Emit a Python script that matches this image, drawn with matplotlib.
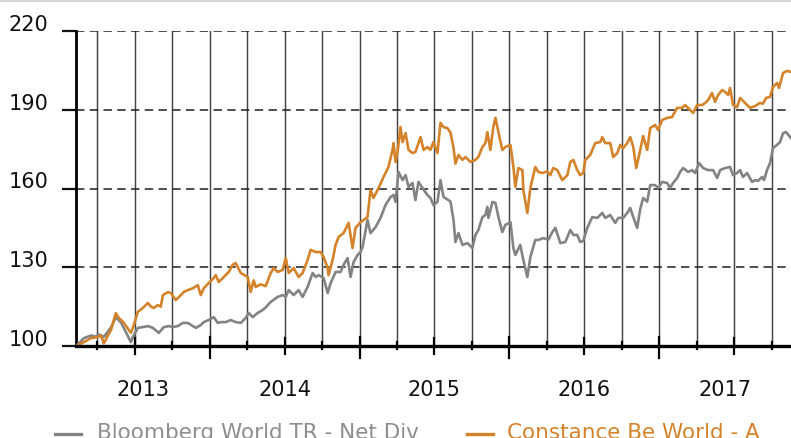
import matplotlib
matplotlib.use("Agg")
import matplotlib.pyplot as plt
from matplotlib.lines import Line2D

# ---------------- data ----------------
fund_label = "Constance Be World - A"
bench_label = "Bloomberg World TR - Net Div"
year_labels = [2013, 2014, 2015, 2016, 2017]
y_ticks = [100, 130, 160, 190, 220]

fund_t = [2013.107, 2013.160, 2013.207, 2013.253, 2013.273, 2013.287, 2013.293, 2013.320, 2013.340, 2013.373,
          2013.393, 2013.427, 2013.473, 2013.493, 2013.520, 2013.553, 2013.587, 2013.607, 2013.627, 2013.653,
          2013.673, 2013.687, 2013.720, 2013.740, 2013.773, 2013.807, 2013.827, 2013.853, 2013.887, 2013.920,
          2013.940, 2013.960, 2013.993, 2014.027, 2014.040, 2014.060, 2014.093, 2014.127, 2014.153, 2014.173,
          2014.187, 2014.207, 2014.253, 2014.273, 2014.293, 2014.307, 2014.340, 2014.373, 2014.407, 2014.427,
          2014.453, 2014.487, 2014.507, 2014.527, 2014.560, 2014.593, 2014.620, 2014.653, 2014.673, 2014.707,
          2014.740, 2014.760, 2014.787, 2014.793, 2014.820, 2014.840, 2014.860, 2014.893, 2014.927, 2014.953,
          2014.973, 2015.007, 2015.053, 2015.073, 2015.093, 2015.127, 2015.160, 2015.193, 2015.220, 2015.227,
          2015.240, 2015.253, 2015.273, 2015.287, 2015.307, 2015.327, 2015.353, 2015.373, 2015.407, 2015.427,
          2015.453, 2015.473, 2015.493, 2015.520, 2015.540, 2015.560, 2015.587, 2015.607, 2015.627, 2015.640,
          2015.660, 2015.687, 2015.707, 2015.740, 2015.773, 2015.793, 2015.820, 2015.840, 2015.853, 2015.873,
          2015.893, 2015.907, 2015.927, 2015.953, 2015.973, 2016.007, 2016.027, 2016.040, 2016.060, 2016.087,
          2016.093, 2016.120, 2016.140, 2016.173, 2016.193, 2016.220, 2016.253, 2016.273, 2016.293, 2016.320,
          2016.353, 2016.387, 2016.407, 2016.427, 2016.453, 2016.473, 2016.493, 2016.507, 2016.540, 2016.573,
          2016.607, 2016.620, 2016.640, 2016.673, 2016.693, 2016.720, 2016.740, 2016.760, 2016.787, 2016.807,
          2016.827, 2016.847, 2016.873, 2016.893, 2016.920, 2016.940, 2016.973, 2016.993, 2017.020, 2017.053,
          2017.087, 2017.093, 2017.120, 2017.153, 2017.173, 2017.193, 2017.227, 2017.253, 2017.287, 2017.307,
          2017.327, 2017.353, 2017.373, 2017.393, 2017.420, 2017.440, 2017.460, 2017.473, 2017.493, 2017.520,
          2017.540, 2017.573, 2017.607, 2017.640, 2017.673, 2017.693, 2017.713, 2017.740, 2017.760, 2017.787,
          2017.800, 2017.827, 2017.853, 2017.880]
fund_v = [100.0, 101.5, 103.0, 103.4, 104.0, 102.0, 101.0, 104.0, 106.0, 112.5,
          110.7, 108.8, 105.0, 108.0, 113.0, 114.5, 116.4, 115.0, 114.5, 115.6,
          115.0, 119.4, 120.5, 120.2, 117.5, 119.4, 120.6, 121.3, 122.0, 123.2,
          119.4, 122.0, 124.0, 125.9, 127.0, 124.4, 126.3, 128.2, 130.9, 131.6,
          130.0, 127.8, 126.3, 120.6, 125.0, 122.5, 123.5, 122.8, 127.8, 129.7,
          128.2, 129.0, 133.5, 127.8, 129.7, 126.3, 127.8, 132.8, 136.6, 135.8,
          135.8, 133.9, 129.7, 127.0, 132.8, 138.5, 141.5, 143.0, 146.9, 137.3,
          145.0, 147.2, 149.1, 159.4, 156.4, 160.2, 164.4, 168.2, 174.7, 177.3,
          170.1, 173.5, 183.4, 177.7, 181.1, 174.7, 173.5, 173.9, 179.6, 174.7,
          175.8, 174.7, 177.7, 173.5, 185.0, 183.4, 183.0, 181.3, 175.5, 169.5,
          172.8, 170.9, 172.0, 170.1, 170.9, 172.0, 175.8, 177.3, 181.5, 174.7,
          183.4, 186.9, 181.5, 174.7, 175.8, 176.6, 168.2, 160.6, 167.8, 167.0,
          159.4, 150.7, 160.2, 168.2, 166.3, 165.9, 166.5, 165.1, 167.8, 167.0,
          163.2, 165.1, 170.1, 170.9, 167.0, 165.1, 165.9, 170.9, 172.8, 177.3,
          177.7, 179.6, 177.3, 177.3, 172.0, 173.5, 176.6, 175.4, 177.3, 179.6,
          175.8, 167.8, 174.5, 180.0, 174.7, 183.0, 184.2, 182.3, 186.1, 186.9,
          187.2, 188.0, 190.7, 190.7, 191.8, 190.7, 188.8, 191.8, 191.8, 192.6,
          193.7, 196.4, 193.0, 195.6, 197.5, 196.8, 195.6, 198.3, 191.8, 191.0,
          194.5, 192.6, 190.7, 191.4, 192.6, 192.3, 194.5, 194.9, 198.7, 200.2,
          198.3, 204.0, 204.8, 204.4]

bench_t = [2013.107, 2013.160, 2013.207, 2013.240, 2013.260, 2013.293, 2013.340, 2013.373, 2013.407, 2013.440,
           2013.473, 2013.493, 2013.520, 2013.553, 2013.587, 2013.620, 2013.660, 2013.693, 2013.727, 2013.753,
           2013.787, 2013.820, 2013.853, 2013.887, 2013.907, 2013.940, 2013.960, 2013.993, 2014.027, 2014.053,
           2014.073, 2014.107, 2014.140, 2014.173, 2014.207, 2014.240, 2014.260, 2014.287, 2014.320, 2014.353,
           2014.373, 2014.407, 2014.453, 2014.487, 2014.507, 2014.527, 2014.560, 2014.593, 2014.620, 2014.653,
           2014.687, 2014.707, 2014.727, 2014.760, 2014.787, 2014.807, 2014.840, 2014.873, 2014.893, 2014.920,
           2014.940, 2014.960, 2014.987, 2015.007, 2015.020, 2015.053, 2015.073, 2015.107, 2015.140, 2015.173,
           2015.207, 2015.227, 2015.240, 2015.260, 2015.287, 2015.307, 2015.327, 2015.353, 2015.373, 2015.393,
           2015.420, 2015.453, 2015.473, 2015.493, 2015.520, 2015.540, 2015.560, 2015.593, 2015.607, 2015.627,
           2015.640, 2015.660, 2015.687, 2015.720, 2015.753, 2015.773, 2015.793, 2015.820, 2015.840, 2015.853,
           2015.860, 2015.887, 2015.907, 2015.927, 2015.953, 2015.973, 2016.007, 2016.027, 2016.040, 2016.073,
           2016.093, 2016.120, 2016.140, 2016.173, 2016.193, 2016.227, 2016.260, 2016.287, 2016.307, 2016.340,
           2016.373, 2016.407, 2016.427, 2016.453, 2016.473, 2016.493, 2016.520, 2016.553, 2016.587, 2016.620,
           2016.640, 2016.673, 2016.707, 2016.727, 2016.760, 2016.787, 2016.807, 2016.827, 2016.853, 2016.873,
           2016.893, 2016.920, 2016.940, 2016.973, 2016.993, 2017.020, 2017.053, 2017.073, 2017.093, 2017.120,
           2017.140, 2017.160, 2017.193, 2017.220, 2017.240, 2017.267, 2017.293, 2017.327, 2017.360, 2017.387,
           2017.407, 2017.440, 2017.473, 2017.493, 2017.520, 2017.540, 2017.560, 2017.587, 2017.620, 2017.640,
           2017.660, 2017.687, 2017.700, 2017.720, 2017.740, 2017.760, 2017.787, 2017.807, 2017.827, 2017.847,
           2017.880]
bench_v = [100.0, 103.0, 104.0, 103.6, 104.4, 103.5, 107.0, 111.0, 109.0, 105.3,
           101.5, 104.2, 106.9, 107.2, 107.6, 106.9, 105.0, 107.2, 107.6, 107.2,
           107.6, 108.8, 108.8, 107.6, 106.9, 108.0, 109.1, 109.9, 111.0, 108.8,
           109.1, 109.1, 109.9, 109.1, 108.8, 110.7, 112.6, 111.0, 112.6, 113.7,
           114.7, 116.8, 118.7, 119.4, 118.7, 121.3, 119.4, 121.3, 118.7, 122.5,
           127.8, 126.3, 127.0, 125.9, 120.2, 124.0, 128.2, 128.2, 130.9, 133.5,
           126.3, 132.0, 134.7, 135.8, 137.7, 148.0, 143.0, 145.3, 148.8, 153.7,
           156.8, 157.5, 154.9, 166.3, 163.2, 165.1, 160.6, 162.1, 155.6, 162.5,
           160.2, 157.5, 156.4, 153.7, 154.9, 163.2, 156.8, 155.6, 155.0, 148.0,
           139.6, 143.0, 138.5, 139.2, 137.3, 142.3, 144.2, 149.1, 149.9, 153.0,
           148.8, 154.9, 154.5, 149.1, 143.4, 146.1, 147.2, 137.3, 134.7, 138.5,
           132.8, 126.3, 133.9, 140.4, 140.4, 141.1, 140.5, 143.4, 145.0, 139.2,
           139.6, 144.2, 142.3, 142.3, 139.6, 140.0, 145.0, 149.1, 148.8, 150.7,
           148.8, 149.9, 146.9, 148.8, 148.8, 150.7, 152.6, 149.1, 145.0, 152.0,
           156.4, 155.0, 161.3, 161.3, 160.2, 162.5, 162.1, 160.2, 162.1, 164.0,
           166.3, 167.8, 166.3, 167.0, 165.9, 169.7, 167.8, 167.0, 167.0, 164.0,
           167.0, 167.8, 168.2, 165.1, 165.9, 167.0, 164.4, 165.9, 162.5, 163.2,
           162.9, 164.4, 163.2, 167.0, 169.7, 175.4, 176.6, 177.7, 181.1, 181.5,
           179.2]

# ---------------- style ----------------
ORANGE = "#d4832a"
GREY = "#838383"
X0, X1 = 2013.107, 2017.88

fig = plt.figure(figsize=(7.91, 4.38), dpi=100)
ax = fig.add_axes([76 / 791, 92 / 438, 715 / 791, 315 / 438])
ax.set_xlim(X0, X1)
ax.set_ylim(100, 220)

# quarterly vertical grid
q = 2013.25
while q < X1:
    ax.axvline(q, color="#444444", lw=1.05, zorder=1)
    q += 0.25

# dashed horizontal grid
for v in y_ticks[1:]:
    ax.axhline(v, color="#1e1e1e", lw=1.1, ls=(0, (5.5, 3.5)), zorder=1)

ax.plot(bench_t, bench_v, color=GREY, lw=1.9, zorder=3)
ax.plot(fund_t, fund_v, color=ORANGE, lw=1.9, zorder=4)

for s in ["top", "right"]:
    ax.spines[s].set_visible(False)
ax.spines["left"].set_linewidth(2.0)
ax.spines["bottom"].set_linewidth(2.4)
ax.spines["bottom"].set_zorder(5)

ax.set_yticks(y_ticks)
ax.set_yticklabels([str(v) for v in y_ticks], fontsize=15, color="#111111")
for lab in ax.get_yticklabels():
    lab.set_verticalalignment("baseline")
ax.tick_params(axis="y", direction="out", length=10, width=1.6, color="#111111", pad=10)
ax.set_xticks([])

# three-level x ticks (quarters / mid-year / year start)
xt = ax.get_xaxis_transform()
q = 2013.25
while q < X1:
    frac = q % 1
    if abs(frac) < 1e-6:
        lo, hi = -0.038, 0.029
    elif abs(frac - 0.5) < 1e-6:
        lo, hi = -0.024, 0.025
    else:
        lo, hi = -0.008, 0.013
    ax.plot([q, q], [lo, hi], transform=xt, color="black", lw=1.6, clip_on=False, zorder=6)
    q += 0.25

# year labels centred on the visible part of each year
for yr in year_labels:
    c = (max(yr, X0) + min(yr + 1, X1)) / 2
    ax.text(c, -0.14, str(yr), transform=xt, ha="center", va="center", fontsize=15, color="#111111")

# legend along the bottom (cut by the lower edge, as in the source image)
fig.add_artist(Line2D([55 / 791, 81 / 791], [4.5 / 438, 4.5 / 438], color=GREY, lw=2.4))
fig.text(97 / 791, -1 / 438, bench_label, fontsize=15.5, color="#8e8e8e", va="baseline", ha="left")
fig.add_artist(Line2D([467 / 791, 493 / 791], [4.5 / 438, 4.5 / 438], color=ORANGE, lw=2.4))
fig.text(507 / 791, -1 / 438, fund_label, fontsize=15.5, color=ORANGE, va="baseline", ha="left")

# faint rule along the top edge
fig.add_artist(Line2D([0, 1], [437.5 / 438, 437.5 / 438], color="#d0d0d0", lw=1.2))

fig.savefig("out.png", dpi=100)
